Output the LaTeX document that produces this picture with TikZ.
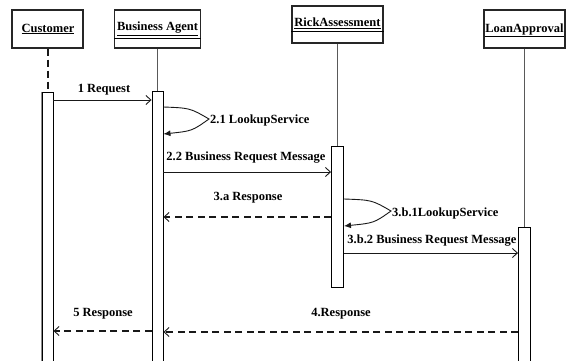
\documentclass[tikz,border=0pt]{standalone}
\usepackage{fontspec}
\setmainfont{Liberation Serif}
\usetikzlibrary{arrows.meta}
\begin{document}
\begin{tikzpicture}[x=1pt,y=-1pt,
  objbox/.style={draw=black!85, line width=1.2pt, fill=white, inner sep=0pt},
  objtxt/.style={font=\bfseries\fontsize{12.5}{14}\selectfont, inner sep=0pt},
  lifeln/.style={draw=black!65, line width=1pt},
  actbox/.style={draw=black, line width=0.9pt, fill=white, inner sep=0pt, minimum width=11pt},
  msg/.style={draw=black!90, line width=0.9pt, -{Straight Barb[length=5pt,width=9pt]}},
  retmsg/.style={draw=black!90, line width=1.8pt, dash pattern=on 7pt off 4.5pt, -{Straight Barb[length=5pt,width=9pt,line width=0.9pt]}},
  selfmsg/.style={draw=black!90, line width=0.9pt, -{Latex[length=7pt,width=6pt]}},
  lbl/.style={font=\bfseries\fontsize{12.5}{14}\selectfont, inner sep=1pt},
]
\useasboundingbox (0,0) rectangle (570,361);
\clip (0,0) rectangle (570,361);
\fill[white] (0,0) rectangle (570,361);

% object boxes
\node[objbox, minimum width=71pt, minimum height=38pt] (boxC) at (47.5,29) {};
\node[objbox, minimum width=86pt, minimum height=38pt] (boxB) at (157.5,29) {};
\node[objbox, minimum width=91pt, minimum height=37pt] (boxR) at (337.5,24.5) {};
\node[objbox, minimum width=81pt, minimum height=38pt] (boxL) at (524.5,29) {};
\draw[line width=1pt] (boxB.west |- 0,39) -- (boxB.east |- 0,39);
\draw[line width=1pt] (boxR.west |- 0,32) -- (boxR.east |- 0,32);
\node[objtxt] (tC) at (48,29) {\underline{Customer}};
\node[objtxt] (tB) at (157.5,29) {\underline{Business Agent}};
\node[objtxt] (tR) at (337.5,23) {\underline{RickAssessment}};
\node[objtxt] (tL) at (524.5,30) {\underline{LoanApproval}};

% activation boxes
\node[actbox, minimum height=273pt] (actC) at (47.5,228.5) {};
\node[actbox, minimum height=274pt] (actB) at (157.5,228) {};
\node[actbox, minimum width=12pt, minimum height=141pt] (actR) at (337.5,216.5) {};
\node[actbox, minimum width=12pt, minimum height=138pt] (actL) at (524.5,296) {};
\draw[black!45, line width=1.8pt] (actC.north west) -- (actC.south west);

% lifelines
\draw[black!90, line width=2pt, dash pattern=on 7pt off 4pt] (boxC.south) -- (actC.north);
\draw[lifeln] (boxB.south) -- (actB.north);
\draw[lifeln] (boxR.south) -- (actR.north);
\draw[lifeln] (boxL.south) -- (actL.north);

% messages
\draw[msg] (actC.east |- 0,100) -- (actB.west |- 0,100);
\node[lbl] (l1) at (104,90) {1 Request};

\draw[selfmsg] (actB.east |- 0,107) .. controls (190,108) .. (209,119)
  .. controls (192,131) .. (actB.east |- 0,134);
\node[lbl, anchor=west] (l21) at (209,120) {2.1 LookupService};

\draw[msg] (actB.east |- 0,172) -- (actR.west |- 0,172);
\node[lbl] (l22) at (246,158) {2.2 Business Request Message};

\draw[retmsg] (actR.west |- 0,217) -- (actB.east |- 0,217);
\node[lbl] (l3a) at (248,198) {3.a Response};

\draw[selfmsg] (actR.east |- 0,199) .. controls (372,200) .. (391,211)
  .. controls (374,223) .. (actR.east |- 0,226);
\node[lbl, anchor=west] (l3b1) at (391,213) {3.b.1LookupService};

\draw[msg] (actR.east |- 0,253) -- (actL.west |- 0,253);
\node[lbl] (l3b2) at (432,241) {3.b.2 Business Request Message};

\draw[retmsg] (actL.west |- 0,332) -- (actB.east |- 0,332);
\node[lbl, fill=white] (l4) at (341,314) {4.Response};

\draw[retmsg] (actB.west |- 0,331) -- (actC.east |- 0,331);
\node[lbl] (l5) at (103,314) {5 Response};
\end{tikzpicture}
\end{document}
